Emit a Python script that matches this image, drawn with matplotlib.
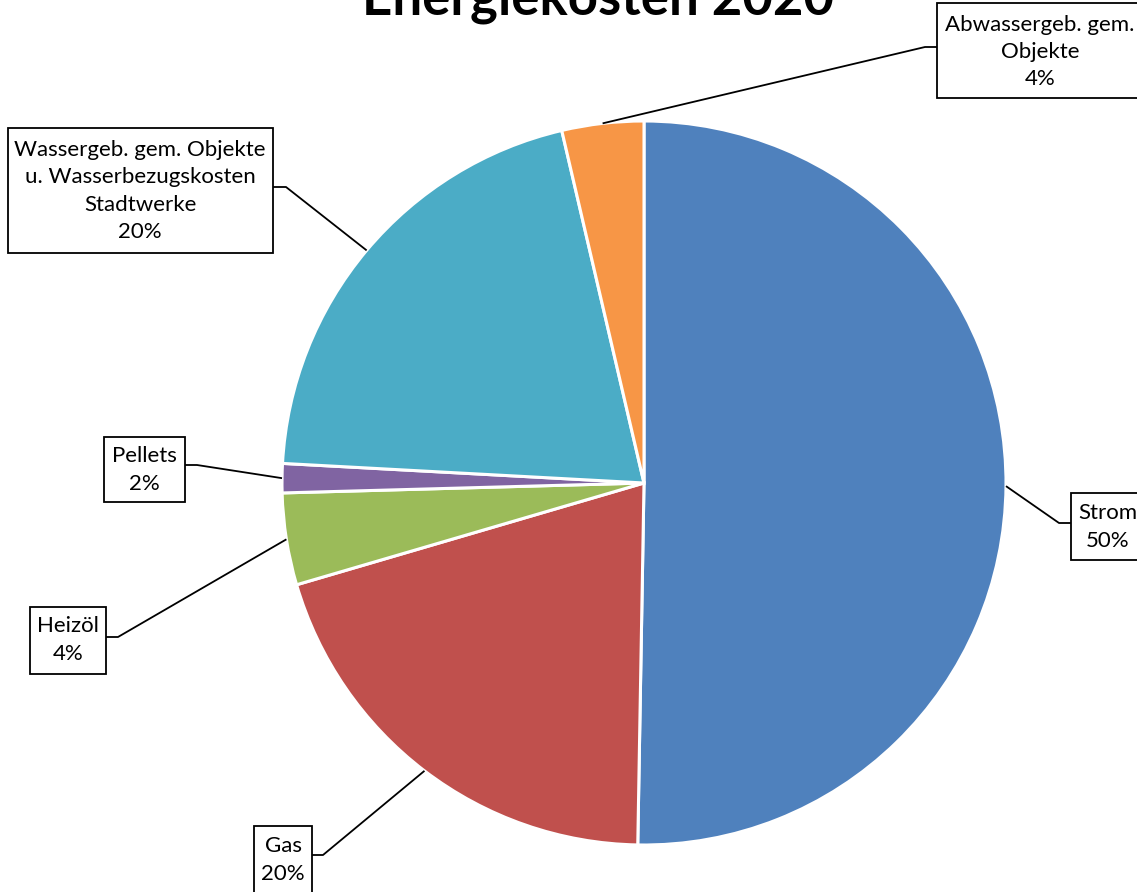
import matplotlib.pyplot as plt
from matplotlib.patches import Rectangle
import numpy as np

# shares (percent)
categories = ['Strom', 'Gas', 'Heizöl', 'Pellets',
              'Wassergeb. gem. Objekte\nu. Wasserbezugskosten\nStadtwerke',
              'Abwassergeb. gem.\nObjekte']
values = [50.3, 20.2, 4.1, 1.3, 20.5, 3.65]
pct_labels = ['50%', '20%', '4%', '2%', '20%', '4%']
colors = ['#4F81BD', '#C0504D', '#9BBB59', '#8064A2', '#4BACC6', '#F79646']

W, H = 1137, 892
plt.rcParams['font.family'] = ['Lato', 'DejaVu Sans']

fig = plt.figure(figsize=(W / 100, H / 100), dpi=100)
ax = fig.add_axes([0, 0, 1, 1])

cx, cy, r = 644, H - 483, 362
wedges, _ = ax.pie(values, colors=colors, startangle=90, counterclock=False,
                   center=(cx, cy), radius=r, frame=True,
                   wedgeprops=dict(edgecolor='white', linewidth=2.2))
ax.set_xlim(0, W)
ax.set_ylim(0, H)
ax.axis('off')

# label layout in pixels (y measured from top): elbow point, box rect, text centre
layout = [
    ((1059, 523), (1071, 493, 1146, 560), (1108, 527)),
    ((323, 855), (254, 826, 312, 896), (283, 860)),
    ((118, 637), (30, 607, 106, 674), (68, 640)),
    ((197, 465), (104, 437, 185, 502), (144, 470)),
    ((286, 187), (8, 128, 273, 253), (140, 191)),
    ((925, 47), (937, 3, 1145, 98), (1040, 52)),
]

for w, cat, pct, (elbow, box, tc) in zip(wedges, categories, pct_labels, layout):
    mid = np.deg2rad((w.theta1 + w.theta2) / 2)
    sx, sy = cx + r * np.cos(mid), cy + r * np.sin(mid)
    ex, ey = elbow[0], H - elbow[1]
    x0, y0, x1, y1 = box
    bx = x1 if ex > x1 else x0
    ax.plot([sx, ex, bx], [sy, ey, ey], color='black', lw=1.3, solid_capstyle='butt')
    ax.add_patch(Rectangle((x0, H - y1), x1 - x0, y1 - y0, facecolor='white',
                           edgecolor='black', lw=1.3))
    ax.text(tc[0], H - tc[1], cat + '\n' + pct, ha='center', va='center',
            fontsize=16, linespacing=1.45, color='black')

ax.text(598, H - 14, 'Energiekosten 2020', ha='center', va='baseline',
        fontsize=38, fontweight='bold', color='black')

fig.savefig('out.png', dpi=100)
